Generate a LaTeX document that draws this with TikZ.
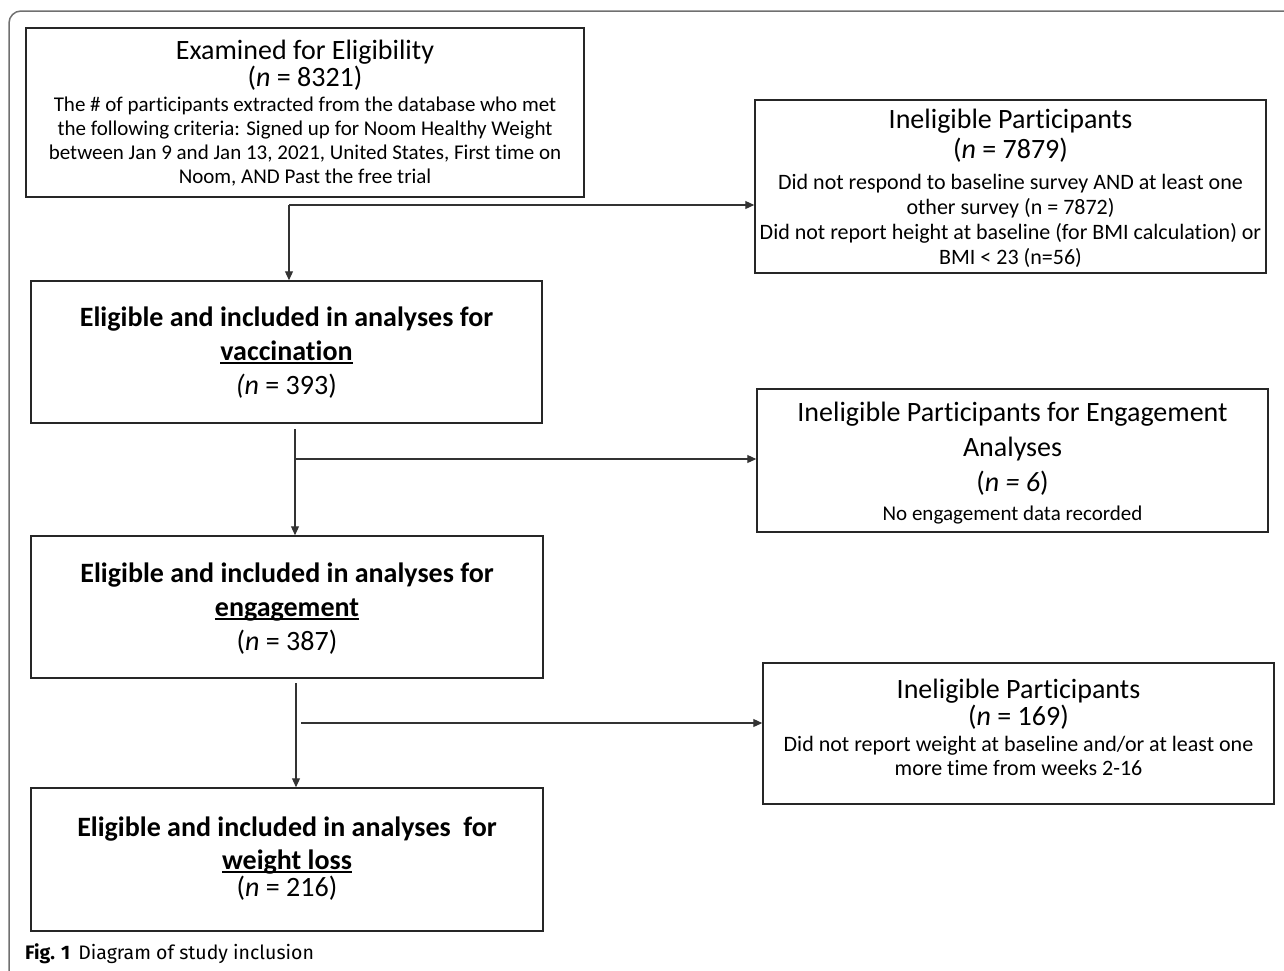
\documentclass[tikz,border=0pt]{standalone}
\usepackage{fontspec}
\setmainfont{Carlito}[Ligatures=NoCommon]
\newfontfamily\capfont{Fira Sans}
\usetikzlibrary{arrows.meta,calc}
\definecolor{boxc}{HTML}{262626}
\definecolor{linec}{HTML}{333333}
\definecolor{framec}{HTML}{707070}
\newlength\ulwd
\newcommand\ulword[1]{\settowidth\ulwd{#1}\makebox[0pt][l]{\rule[-4pt]{\ulwd}{1.8pt}}#1}
\begin{document}
\begin{tikzpicture}[x=1pt,y=-1pt,
  box/.style={draw=boxc, line width=1.5pt, inner sep=0pt},
  lnk/.style={draw=linec, line width=1.1pt, -{Triangle[length=9pt,width=8pt]}},
  ttl/.style={font=\fontsize{28}{34}\selectfont, anchor=base, inner sep=0pt},
  bod/.style={font=\fontsize{21}{25}\selectfont, anchor=base, inner sep=0pt},
  bodl/.style={font=\fontsize{22}{26}\selectfont, anchor=base, inner sep=0pt},
  bods/.style={font=\fontsize{21}{25}\selectfont, anchor=base, inner sep=0pt},
  bld/.style={font=\fontsize{28}{34}\selectfont\bfseries, anchor=base, inner sep=0pt},
  capt/.style={font=\capfont\fontsize{19.5}{23}\selectfont, anchor=base west, inner sep=0pt}]
\useasboundingbox (0,0) rectangle (1284,970);
% frame
\draw[framec, line width=1.5pt, rounded corners=12pt] (9,975) -- (9,11) -- (1290,11);
% boxes
\node[box, minimum width=558pt, minimum height=169pt] (b1) at (305,112.5) {};
\node[box, minimum width=511pt, minimum height=173pt] (b2) at (1010.5,186.5) {};
\node[box, minimum width=511pt, minimum height=142pt] (b3) at (286.5,352) {};
\node[box, minimum width=512pt, minimum height=142pt] (b4) at (287,607) {};
\node[box, minimum width=511pt, minimum height=143pt] (b5) at (1012.5,460.5) {};
\node[box, minimum width=511pt, minimum height=141pt] (b6) at (1018.5,733.5) {};
\node[box, minimum width=512pt, minimum height=143pt] (b7) at (287,859.5) {};
% box 1 text
\node[ttl] (t1a) at (305,59) {Examined for Eligibility};
\node[ttl] (t1b) at (305,86) {(\textit{n} = 8321)};
\node[bod] (t1c) at (305,111) {The \# of participants extracted from the database who met};
\node[bod] (t1d) at (305,135) {the following criteria: Signed up for Noom Healthy Weight};
\node[bod] (t1e) at (305,159) {between Jan 9 and Jan 13, 2021, United States, First time on};
\node[bod] (t1f) at (305,183) {Noom, AND Past the free trial};
% box 2 text
\node[ttl] (t2a) at (1010.5,128) {Ineligible Participants};
\node[ttl] (t2b) at (1010.5,158) {(\textit{n} = 7879)};
\node[bodl] (t2c) at (1010.5,189) {Did not respond to baseline survey AND at least one};
\node[bodl] (t2d) at (1010.5,214) {other survey (n = 7872)};
\node[bodl] (t2e) at (1010.5,239) {Did not report height at baseline (for BMI calculation) or};
\node[bodl] (t2f) at (1010.5,264) {BMI < 23 (n=56)};
% box 3 text
\node[bld] (t3a) at (286.5,326) {Eligible and included in analyses for};
\node[bld] (t3b) at (286.5,360) {\ulword{vaccination}};
\node[ttl] (t3c) at (286.5,394) {\textit{(n} = 393)};
% box 4 text
\node[bld] (t4a) at (287,582) {Eligible and included in analyses for};
\node[bld] (t4b) at (287,616) {\ulword{engagement}};
\node[ttl] (t4c) at (287,650) {(\textit{n} = 387)};
% box 5 text
\node[ttl] (t5a) at (1012.5,421) {Ineligible Participants for Engagement};
\node[ttl] (t5b) at (1012.5,456) {Analyses};
\node[ttl] (t5c) at (1012.5,491) {(\textit{n = 6})};
\node[bods] (t5d) at (1012.5,520) {No engagement data recorded};
% box 6 text
\node[ttl] (t6a) at (1018.5,698) {Ineligible Participants};
\node[ttl] (t6b) at (1018.5,725) {(\textit{n} = 169)};
\node[bodl] (t6c) at (1018.5,751) {Did not report weight at baseline and/or at least one};
\node[bodl] (t6d) at (1018.5,775) {more time from weeks 2-16};
% box 7 text
\node[bld] (t7a) at (287,836) {Eligible and included in analyses\ \ for};
\node[bld] (t7b) at (287,869) {\ulword{weight loss}};
\node[ttl] (t7c) at (287,896) {(\textit{n} = 216)};
% connectors
\coordinate (c1) at (289,205);
\draw[lnk] (c1) -- (c1 -| b2.west);
\draw[lnk] (c1) -- (c1 |- b3.north);
\coordinate (c2) at (295,429);
\coordinate (j2) at (295,459);
\draw[lnk] (c2) -- (c2 |- b4.north);
\draw[lnk] (j2) -- (j2 -| b5.west);
\coordinate (c3) at (296,683);
\coordinate (j3) at (301,723);
\draw[lnk] (c3) -- (c3 |- b7.north);
\draw[lnk] (j3) -- (j3 -| b6.west);
% caption
\node[capt] (cap) at (25,959) {\textbf{Fig. 1}\hspace{8pt}Diagram of study inclusion};
\end{tikzpicture}
\end{document}
